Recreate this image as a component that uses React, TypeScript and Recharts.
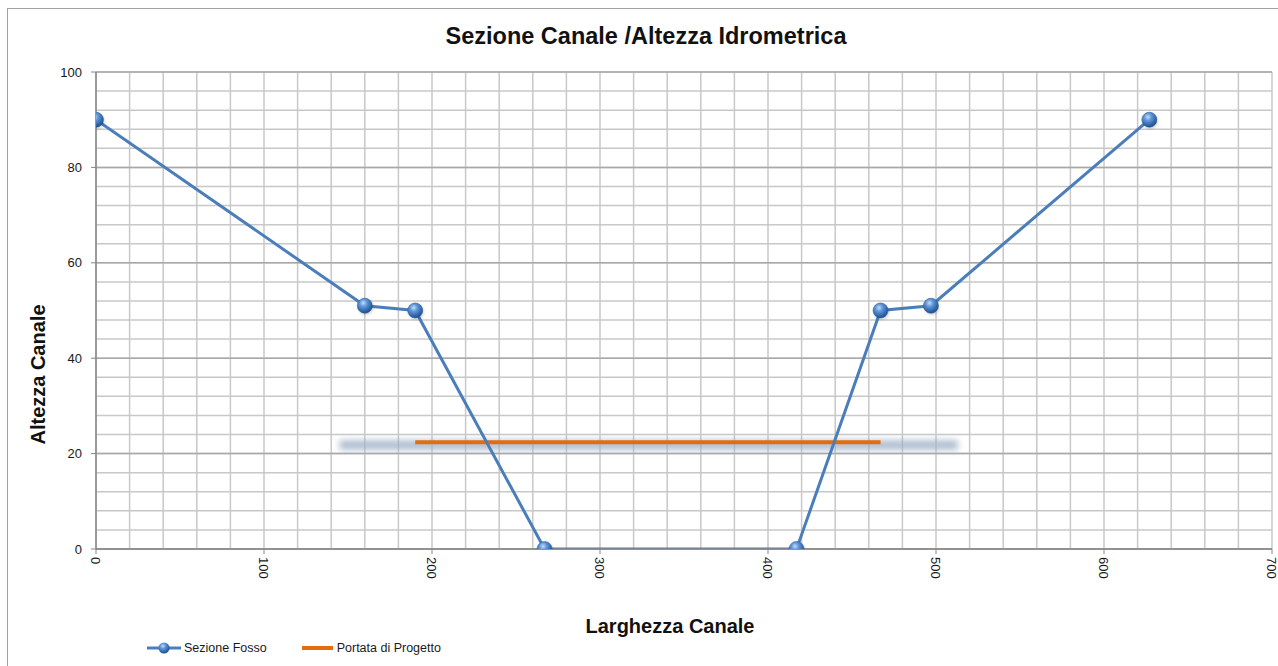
import React from 'react';
import { LineChart, Line, XAxis, YAxis, CartesianGrid, Legend, ReferenceLine } from 'recharts';

// ---- data ----
const sezioneX = [0, 160, 190, 267, 417, 467, 497, 627];
const sezioneY = [90, 51, 50, 0, 0, 50, 51, 90];
const portataX = [190, 467];
const portataY = [22.4, 22.4];
const glowX = [145, 513];
const glowY = [21.8, 21.8];

const xTickLabels = [0, 100, 200, 300, 400, 500, 600, 700];
const yTickLabels = [0, 20, 40, 60, 80, 100];
const xGridValues = [0, 20, 40, 60, 80, 100, 120, 140, 160, 180, 200, 220, 240, 260, 280, 300, 320, 340, 360, 380, 400, 420, 440, 460, 480, 500, 520, 540, 560, 580, 600, 620, 640, 660, 680, 700];
const yGridValues = [0, 4, 8, 12, 16, 20, 24, 28, 32, 36, 40, 44, 48, 52, 56, 60, 64, 68, 72, 76, 80, 84, 88, 92, 96, 100];

const seriesNames = ['Sezione Fosso', 'Portata di Progetto'];
const titleText = 'Sezione Canale /Altezza Idrometrica';
const xTitle = 'Larghezza Canale';
const yTitle = 'Altezza Canale';

const sezioneData = sezioneX.map((x, i) => ({ x, y: sezioneY[i] }));
const portataData = portataX.map((x, i) => ({ x, y: portataY[i] }));
const glowData = glowX.map((x, i) => ({ x, y: glowY[i] }));

const BLUE = '#4A7EBB';
const ORANGE = '#E46C0A';
const FONT = '"Liberation Sans", Arial, sans-serif';

const XTick = (props: any) => {
  const { x, y, payload } = props;
  if (!xTickLabels.includes(payload.value)) return <g />;
  return (
    <g>
      <line x1={x} x2={x} y1={y - 8} y2={y - 3} stroke="#868686" />
      <text
        x={x}
        y={y}
        dy="0.35em"
        transform={`rotate(90, ${x}, ${y})`}
        textAnchor="start"
        fontSize={13}
        fontFamily={FONT}
        fill="#1a1a1a"
      >
        {payload.value}
      </text>
    </g>
  );
};

const YTick = (props: any) => {
  const { x, y, payload } = props;
  if (!yTickLabels.includes(payload.value)) return <g />;
  return (
    <g>
      <line x1={x + 9} x2={x + 14} y1={y} y2={y} stroke="#868686" />
      <text x={x} y={y} dy="0.35em" textAnchor="end" fontSize={13} fontFamily={FONT} fill="#1a1a1a">
        {payload.value}
      </text>
    </g>
  );
};

const Ball = (props: any) => {
  const { cx, cy, index } = props;
  if (cx == null || cy == null) return <g key={index} />;
  return (
    <g key={index}>
      <circle cx={cx + 1} cy={cy + 1.5} r={7.5} fill="#000" opacity={0.18} filter="url(#softBlur)" />
      <circle cx={cx} cy={cy} r={7.5} fill="url(#ballGrad)" stroke="#2f5f98" strokeWidth={0.6} />
    </g>
  );
};

const LegendContent = () => (
  <div style={{ display: 'flex', alignItems: 'center', fontFamily: FONT, fontSize: 12.5, color: '#1a1a1a' }}>
    <svg width={36} height={14} style={{ marginRight: 2 }}>
      <line x1={1} x2={35} y1={7} y2={7} stroke={BLUE} strokeWidth={3} />
      <circle cx={18} cy={7} r={5.5} fill="url(#ballGrad)" />
    </svg>
    <span style={{ marginRight: 34 }}>{seriesNames[0]}</span>
    <svg width={34} height={14} style={{ marginRight: 2 }}>
      <line x1={1} x2={32} y1={7} y2={7} stroke={ORANGE} strokeWidth={4} />
    </svg>
    <span>{seriesNames[1]}</span>
  </div>
);

export default function App() {
  return (
    <div style={{ position: 'absolute', left: 0, top: 0, width: 1278, height: 666, overflow: 'hidden', background: '#fff' }}>
      <svg width={0} height={0} style={{ position: 'absolute' }}>
        <defs>
          <radialGradient id="ballGrad" cx="40%" cy="32%" r="70%">
            <stop offset="0%" stopColor="#c4dcf7" />
            <stop offset="35%" stopColor="#5f97d8" />
            <stop offset="80%" stopColor="#2d62a6" />
            <stop offset="100%" stopColor="#1e4a82" />
          </radialGradient>
          <filter id="glowBlur" filterUnits="userSpaceOnUse" x={0} y={0} width={1278} height={666}>
            <feGaussianBlur stdDeviation="3" />
          </filter>
          <filter id="softBlur" x="-50%" y="-50%" width="200%" height="200%">
            <feGaussianBlur stdDeviation="1.5" />
          </filter>
        </defs>
      </svg>
      <div
        style={{
          position: 'absolute',
          left: 7,
          top: 8,
          width: 1400,
          height: 800,
          border: '1.5px solid #a0a0a0',
          boxSizing: 'border-box',
        }}
      />
      <div
        style={{
          position: 'absolute',
          left: 0,
          width: 1292,
          top: 23,
          textAlign: 'center',
          fontFamily: FONT,
          fontWeight: 'bold',
          fontSize: 23.5,
          color: '#111',
        }}
      >
        {titleText}
      </div>
      <div style={{ position: 'absolute', left: 0, top: 0 }}>
        <LineChart width={1278} height={666} margin={{ top: 72, right: 6, bottom: 71, left: 36 }}>
          <CartesianGrid stroke="#c8c8c8" strokeWidth={1.5} />
          {yTickLabels.map((v) => (
            <ReferenceLine key={`ref-${v}`} y={v} stroke="#a8a8a8" strokeWidth={1.5} />
          ))}
          <XAxis
            type="number"
            dataKey="x"
            domain={[0, 700]}
            ticks={xGridValues}
            interval={0}
            allowDataOverflow
            height={30}
            tickSize={5}
            tickMargin={3}
            tickLine={false}
            axisLine={{ stroke: '#868686', strokeWidth: 1.5 }}
            tick={<XTick />}
            label={{
              content: (p: any) => {
                const vb = p.viewBox || { x: 96, width: 1176 };
                return (
                  <text
                    x={vb.x + vb.width / 2 - 14}
                    y={633}
                    textAnchor="middle"
                    fontFamily={FONT}
                    fontWeight="bold"
                    fontSize={20}
                    fill="#111"
                  >
                    {xTitle}
                  </text>
                );
              },
            }}
          />
          <YAxis
            type="number"
            dataKey="y"
            domain={[0, 100]}
            ticks={yGridValues}
            interval={0}
            allowDataOverflow
            width={60}
            tickSize={5}
            tickMargin={9}
            tickLine={false}
            axisLine={{ stroke: '#868686', strokeWidth: 1.5 }}
            tick={<YTick />}
            label={{
              content: (p: any) => {
                const vb = p.viewBox || { x: 36, y: 72, height: 477 };
                const cx = vb.x + 2;
                const cy = vb.y + vb.height / 2 + 64;
                return (
                  <text
                    x={cx}
                    y={cy}
                    transform={`rotate(-90, ${cx}, ${cy})`}
                    textAnchor="middle"
                    dominantBaseline="central"
                    fontFamily={FONT}
                    fontWeight="bold"
                    fontSize={20}
                    fill="#111"
                  >
                    {yTitle}
                  </text>
                );
              },
            }}
          />
          <Line
            data={glowData}
            dataKey="y"
            name="glow"
            stroke="#9eb0c6"
            strokeWidth={10}
            strokeOpacity={0.8}
            filter="url(#glowBlur)"
            dot={false}
            activeDot={false}
            legendType="none"
            isAnimationActive={false}
          />
          <Line
            data={portataData}
            dataKey="y"
            name={seriesNames[1]}
            stroke={ORANGE}
            strokeWidth={4}
            dot={false}
            activeDot={false}
            isAnimationActive={false}
          />
          <Line
            data={sezioneData}
            dataKey="y"
            name={seriesNames[0]}
            stroke={BLUE}
            strokeWidth={3}
            dot={<Ball />}
            activeDot={false}
            isAnimationActive={false}
          />
          <Legend
            content={<LegendContent />}
            wrapperStyle={{ position: 'absolute', left: 146, top: 641, width: 'auto', height: 16 }}
          />
        </LineChart>
      </div>
    </div>
  );
}
